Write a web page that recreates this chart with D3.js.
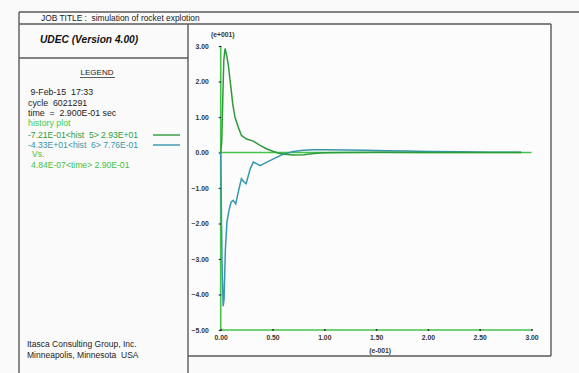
<!DOCTYPE html>
<html>
<head>
<meta charset="utf-8">
<script src="https://cdn.jsdelivr.net/npm/d3@7"></script>
<style>
  html, body { margin: 0; padding: 0; background: #fafafa; }
  svg { display: block; font-family: "Liberation Sans", Arial, sans-serif; }
</style>
</head>
<body>
<svg id="chart" width="579" height="373"></svg>
<script>
// Time axis values are in units of 1e-1 s, history values in units of 1e+1.
const hist5Time = [0, 0.01, 0.02, 0.03, 0.042, 0.06, 0.074, 0.09, 0.1, 0.116, 0.138, 0.17, 0.2, 0.25, 0.315, 0.38, 0.445, 0.51, 0.56, 0.62, 0.7, 0.8, 0.9, 1.0, 1.2, 1.5, 2.0, 2.5, 2.9];
const hist5Vals = [0, 0.3, 1.5, 2.6, 2.93, 2.7, 2.45, 2.05, 1.8, 1.37, 0.99, 0.71, 0.48, 0.38, 0.32, 0.2, 0.1, 0.03, -0.02, -0.05, -0.0721, -0.06, -0.03, -0.01, 0.0, 0.005, 0.0, 0.0, 0.0];

const hist6Time = [0, 0.004, 0.008, 0.014, 0.024, 0.032, 0.038, 0.045, 0.06, 0.08, 0.1, 0.12, 0.145, 0.17, 0.2, 0.225, 0.245, 0.285, 0.315, 0.35, 0.38, 0.445, 0.51, 0.6, 0.7, 0.8, 0.9, 1.0, 1.2, 1.4, 1.6, 1.8, 2.0, 2.3, 2.6, 2.9];
const hist6Vals = [0, -0.8, -2.0, -3.3, -4.33, -4.15, -3.5, -2.75, -1.96, -1.63, -1.4, -1.35, -1.45, -1.11, -0.74, -0.83, -0.88, -0.46, -0.27, -0.32, -0.37, -0.27, -0.18, -0.05, 0.03, 0.065, 0.0776, 0.075, 0.07, 0.06, 0.05, 0.04, 0.03, 0.02, 0.01, 0.005];

const xTicks = [0, 0.5, 1.0, 1.5, 2.0, 2.5, 3.0];
const yTicks = [3, 2, 1, 0, -1, -2, -3, -4, -5];

const headerLines = [" 9-Feb-15  17:33", "cycle  6021291", "time  =  2.900E-01 sec"];
const legendEntries = [
  { text: "-7.21E-01<hist  5> 2.93E+01", color: "#2f9a3c" },
  { text: "-4.33E+01<hist  6> 7.76E-01", color: "#3796ad" }
];

const svg = d3.select("#chart");
const frame = "#5a5a5a";
const axisGreen = "#45c24a";

// Page frame: title row, left info panel, plot box
const frameLines = [
  [19, 12, 579, 12],
  [19, 12, 19, 373],
  [19, 24, 551, 24],
  [188, 24, 188, 373],
  [19, 58, 188, 58],
  [551, 24, 551, 356],
  [188, 356, 551, 356]
];
svg.append("rect").attr("x", 189).attr("y", 25).attr("width", 361).attr("height", 330).attr("fill", "#fcfcfc");
svg.selectAll("line.frame").data(frameLines).join("line")
  .attr("class", "frame")
  .attr("x1", d => d[0]).attr("y1", d => d[1]).attr("x2", d => d[2]).attr("y2", d => d[3])
  .attr("stroke", frame).attr("stroke-width", 1.4);

svg.append("text").attr("x", 41).attr("y", 21)
  .attr("font-size", 8.4).attr("fill", "#222")
  .attr("xml:space", "preserve")
  .text("JOB TITLE :  simulation of rocket explotion");

svg.append("text").attr("x", 40).attr("y", 43)
  .attr("font-size", 10.2).attr("font-weight", "bold").attr("font-style", "italic").attr("fill", "#111")
  .text("UDEC (Version 4.00)");

// Legend panel
svg.append("text").attr("x", 97).attr("y", 75).attr("text-anchor", "middle")
  .attr("font-size", 8).attr("fill", "#222").text("LEGEND");
svg.append("line").attr("x1", 80).attr("x2", 115).attr("y1", 77.5).attr("y2", 77.5)
  .attr("stroke", "#333").attr("stroke-width", 0.8);

svg.selectAll("text.hdr").data(headerLines).join("text")
  .attr("class", "hdr")
  .attr("x", 28).attr("y", (d, i) => 95 + i * 10.5)
  .attr("font-size", 8.8).attr("fill", "#222")
  .attr("xml:space", "preserve")
  .text(d => d);

svg.append("text").attr("x", 28).attr("y", 126)
  .attr("font-size", 8.8).attr("fill", "#45cc45").text("history plot");

const leg = svg.selectAll("g.leg").data(legendEntries).join("g")
  .attr("class", "leg")
  .attr("transform", (d, i) => `translate(0, ${135 + i * 10})`);
leg.append("text").attr("x", 28).attr("y", 3)
  .attr("font-size", 8.6).attr("fill", d => d.color)
  .attr("xml:space", "preserve").text(d => d.text);
leg.append("line").attr("x1", 153).attr("x2", 180).attr("y1", 0).attr("y2", 0)
  .attr("stroke", d => d.color).attr("stroke-width", 1.4);

svg.append("text").attr("x", 32).attr("y", 157)
  .attr("font-size", 8.6).attr("fill", "#45c045").text("Vs.");
svg.append("text").attr("x", 31).attr("y", 168)
  .attr("font-size", 8.6).attr("fill", "#45c045").text("4.84E-07<time> 2.90E-01");

svg.append("text").attr("x", 27).attr("y", 347)
  .attr("font-size", 8.5).attr("fill", "#222").text("Itasca Consulting Group, Inc.");
svg.append("text").attr("x", 27).attr("y", 358)
  .attr("font-size", 8.5).attr("fill", "#222")
  .attr("xml:space", "preserve").text("Minneapolis, Minnesota  USA");

// Plot scales
const x = d3.scaleLinear().domain([0, 3]).range([220.7, 531.5]);
const y = d3.scaleLinear().domain([-5, 3]).range([330, 46]);

// Axes drawn as green lines plus the zero reference line
const g = svg.append("g");
g.append("line").attr("x1", x(0)).attr("x2", x(0)).attr("y1", y(3)).attr("y2", y(-5))
  .attr("stroke", axisGreen).attr("stroke-width", 1.6);
g.append("line").attr("x1", x(0)).attr("x2", x(3)).attr("y1", y(-5)).attr("y2", y(-5))
  .attr("stroke", axisGreen).attr("stroke-width", 1.6);
g.append("line").attr("x1", x(0)).attr("x2", x(3)).attr("y1", y(0)).attr("y2", y(0))
  .attr("stroke", axisGreen).attr("stroke-width", 1.6);

const yAxis = d3.axisLeft(y).tickValues(yTicks).tickSize(2.5).tickPadding(10)
  .tickFormat(d3.format(".2f"));
const xAxis = d3.axisBottom(x).tickValues(xTicks).tickSize(0).tickPadding(5)
  .tickFormat(d3.format(".2f"));

const ya = svg.append("g").attr("transform", `translate(${x(0) + 0.5},0)`).call(yAxis);
ya.select(".domain").remove();
ya.selectAll(".tick line").attr("stroke", "#333").attr("stroke-width", 1.2);
ya.selectAll(".tick text").attr("font-size", 6.8).attr("font-weight", "bold").attr("fill", "#333")
  .attr("font-family", "'Liberation Sans', Arial, sans-serif");

const xa = svg.append("g").attr("transform", `translate(0,${y(-5)})`).call(xAxis);
xa.select(".domain").remove();
xa.selectAll(".tick text").attr("font-size", 6.8).attr("font-weight", "bold").attr("fill", "#333")
  .attr("font-family", "'Liberation Sans', Arial, sans-serif");
xa.selectAll(".tick").append("circle").attr("r", 1).attr("fill", "#333");

svg.append("text").attr("x", x(0) + 2).attr("y", 37).attr("text-anchor", "middle")
  .attr("font-size", 6.8).attr("font-weight", "bold").attr("fill", "#333").text("(e+001)");
svg.append("text").attr("x", x(1.5) + 4).attr("y", 352.5).attr("text-anchor", "middle")
  .attr("font-size", 6.8).attr("font-weight", "bold").attr("fill", "#333").text("(e-001)");

// History curves
const line = d3.line().x(d => x(d[0])).y(d => y(d[1])).curve(d3.curveLinear);
svg.append("path").datum(d3.zip(hist6Time, hist6Vals))
  .attr("d", line).attr("fill", "none").attr("stroke", legendEntries[1].color).attr("stroke-width", 1.5);
svg.append("path").datum(d3.zip(hist5Time, hist5Vals))
  .attr("d", line).attr("fill", "none").attr("stroke", legendEntries[0].color).attr("stroke-width", 1.5);
</script>
</body>
</html>
